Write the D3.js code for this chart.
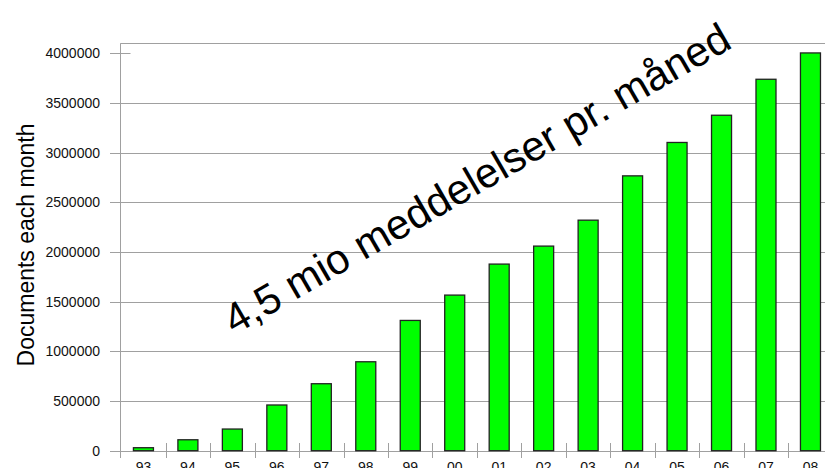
<!DOCTYPE html>
<html>
<head>
<meta charset="utf-8">
<script src="https://cdn.jsdelivr.net/npm/d3@7"></script>
<style>
  body { margin: 0; background: #fff; }
  svg { display: block; font-family: "Liberation Sans", Arial, sans-serif; }
</style>
</head>
<body>
<div id="chart"></div>
<script>
// years shown on the x axis
var years = ["93", "94", "95", "96", "97", "98", "99", "00", "01", "02", "03", "04", "05", "06", "07", "08"];
// documents per month
var docs = [30000, 110000, 218000, 460000, 674000, 895000, 1311000, 1566000, 1878000, 2059000, 2320000, 2766000, 3102000, 3376000, 3738000, 4003000];
var yTicks = [0, 500000, 1000000, 1500000, 2000000, 2500000, 3000000, 3500000, 4000000];

var W = 825, H = 468;
var plotLeft = 120.5, plotTop = 43.3, plotBottom = 450.7, plotRight = 832.7;

var svg = d3.select("#chart").append("svg")
    .attr("width", W)
    .attr("height", H);

var x = d3.scaleBand()
    .domain(years)
    .range([plotLeft + 0.7, plotRight])
    .padding(0);

var y = d3.scaleLinear()
    .domain([0, 4100000])
    .range([plotBottom, plotTop]);

var grey = "#a0a0a0";

// top border of the plot area
svg.append("line")
    .attr("x1", plotLeft).attr("x2", W)
    .attr("y1", 43.5).attr("y2", 43.5)
    .attr("stroke", grey).attr("stroke-width", 1);

// gridlines (the 4000000 one is only a tick)
svg.selectAll(".grid")
    .data(yTicks)
    .enter().append("line")
    .attr("class", "grid")
    .attr("x1", 110)
    .attr("x2", function (d) { return d >= 4000000 ? 130.5 : W; })
    .attr("y1", function (d) { return Math.round(y(d)) + 0.5; })
    .attr("y2", function (d) { return Math.round(y(d)) + 0.5; })
    .attr("stroke", grey).attr("stroke-width", 1);

// y axis line
svg.append("line")
    .attr("x1", plotLeft).attr("x2", plotLeft)
    .attr("y1", plotTop).attr("y2", 458)
    .attr("stroke", grey).attr("stroke-width", 1);

// x ticks at category boundaries
svg.selectAll(".xtick")
    .data(years.slice(1))
    .enter().append("line")
    .attr("class", "xtick")
    .attr("x1", function (d) { return Math.round(x(d)) + 0.5; })
    .attr("x2", function (d) { return Math.round(x(d)) + 0.5; })
    .attr("y1", 443).attr("y2", 458)
    .attr("stroke", grey).attr("stroke-width", 1);

// bars
var barW = x.bandwidth() * 0.45;
svg.selectAll(".bar")
    .data(docs)
    .enter().append("rect")
    .attr("class", "bar")
    .attr("x", function (d, i) { return x(years[i]) + (x.bandwidth() - barW) / 2; })
    .attr("y", function (d) { return y(d); })
    .attr("width", barW)
    .attr("height", function (d) { return y(0) - y(d); })
    .attr("fill", "#00ff00")
    .attr("stroke", "#222")
    .attr("stroke-width", 1.3);

// y tick labels
svg.selectAll(".ylab")
    .data(yTicks)
    .enter().append("text")
    .attr("class", "ylab")
    .attr("x", 100)
    .attr("y", function (d) { return y(d); })
    .attr("dy", "0.36em")
    .attr("text-anchor", "end")
    .attr("font-size", 14)
    .attr("fill", "#111")
    .text(function (d) { return d; });

// x tick labels (cut by the bottom edge)
svg.selectAll(".xlab")
    .data(years)
    .enter().append("text")
    .attr("class", "xlab")
    .attr("x", function (d) { return x(d) + x.bandwidth() / 2; })
    .attr("y", 472)
    .attr("text-anchor", "middle")
    .attr("font-size", 14)
    .attr("fill", "#111")
    .text(function (d) { return d; });

// y axis title
svg.append("text")
    .attr("transform", "translate(34,245) rotate(-90)")
    .attr("text-anchor", "middle")
    .attr("font-size", 23)
    .attr("fill", "#000")
    .text("Documents each month");

// big slanted annotation
svg.append("text")
    .attr("transform", "translate(484,191) rotate(-30)")
    .attr("text-anchor", "middle")
    .attr("font-size", 42)
    .attr("fill", "#000")
    .text("4,5 mio meddelelser pr. måned");
</script>
</body>
</html>
